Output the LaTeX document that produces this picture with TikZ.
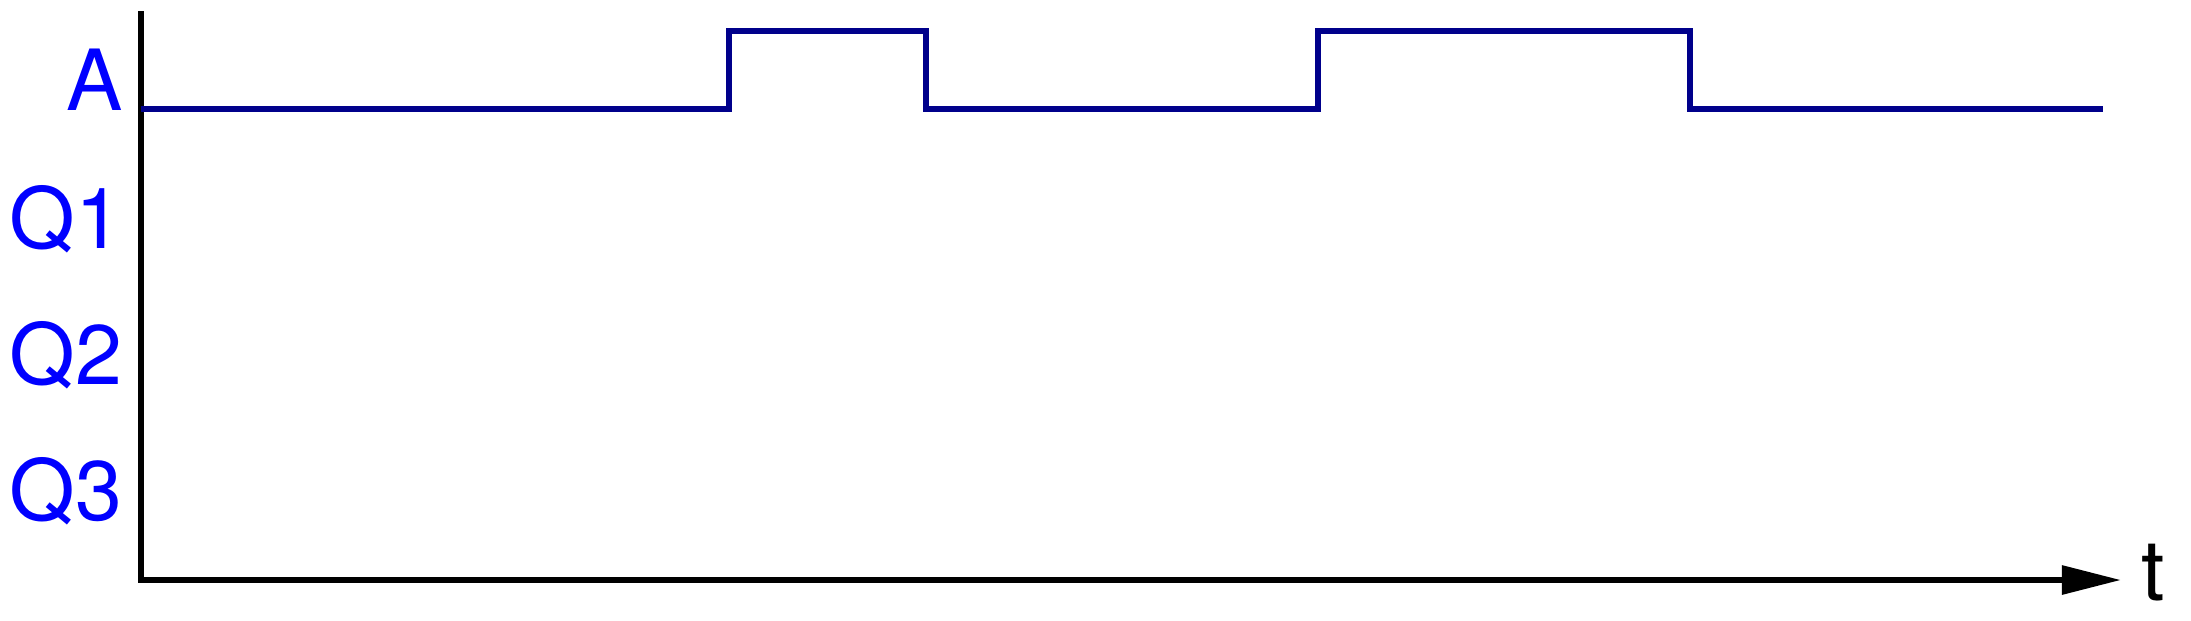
\documentclass[tikz,border=0pt]{standalone}
\usepackage{fontspec}
\setmainfont{TeX Gyre Heros}
\usetikzlibrary{arrows.meta}
\definecolor{sig}{HTML}{00008B}
\definecolor{lbl}{HTML}{0000FF}

\begin{document}
\begin{tikzpicture}[x=0.01cm,y=-0.01cm,
  axis/.style={line width=1.7pt,black},
  wave/.style={line width=1.6pt,sig,line join=miter},
  siglabel/.style={font=\fontsize{24}{28}\selectfont,lbl,anchor=east,inner sep=0pt}]
  \useasboundingbox (0,0) rectangle (2191,620);
  % Axes
  \coordinate (top) at (141,11);
  \coordinate (origin) at (141,580);
  \coordinate (tip) at (2121,580);
  \draw[axis,-{Triangle[length=0.59cm,width=0.28cm]}] (top) -- (origin) -- (tip);
  \node[font=\fontsize{24}{28}\selectfont,anchor=west,inner sep=0pt] (t) at (2141,573) {t};

  % Signal names
  \node[siglabel] (A) at (123,80) {A};
  \node[siglabel] (Q1) at (123,219) {Q1};
  \node[siglabel] (Q2) at (123,355) {Q2};
  \node[siglabel] (Q3) at (123,491) {Q3};

  % Input A
  \draw[wave] (141,109) -- (729,109) -- (729,31) -- (926,31) -- (926,109)
    -- (1318,109) -- (1318,31) -- (1690,31) -- (1690,109) -- (2103,109);
\end{tikzpicture}
\end{document}
